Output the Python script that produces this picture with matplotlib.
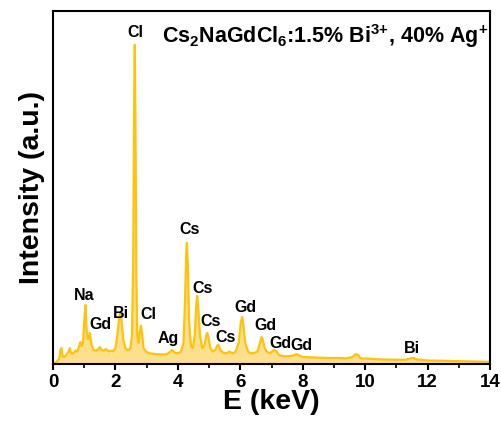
import matplotlib
matplotlib.use('Agg')
import matplotlib.pyplot as plt
from matplotlib.ticker import MultipleLocator

plt.rcParams['font.family'] = 'Liberation Sans'
plt.rcParams['font.weight'] = 'bold'
plt.rcParams['mathtext.fontset'] = 'custom'
plt.rcParams['mathtext.rm'] = 'Liberation Sans:bold'
plt.rcParams['mathtext.it'] = 'Liberation Sans:bold'
plt.rcParams['mathtext.bf'] = 'Liberation Sans:bold'

# Espectro EDS (keV, intensidad relativa)
energia = [0.00, 0.10, 0.20, 0.24, 0.27, 0.31, 0.40, 0.50, 0.54, 0.58, 0.65, 0.72,
           0.78, 0.85, 0.88, 0.92, 0.96, 1.00, 1.04, 1.08, 1.12, 1.18, 1.23, 1.30,
           1.38, 1.45, 1.50, 1.55, 1.62, 1.70, 1.78, 1.85, 1.92, 2.00, 2.06, 2.12,
           2.16, 2.20, 2.25, 2.32, 2.40, 2.48, 2.53, 2.57, 2.60, 2.62, 2.64, 2.67,
           2.70, 2.74, 2.78, 2.82, 2.86, 2.90, 2.98, 3.10, 3.30, 3.50, 3.65, 3.75,
           3.82, 3.90, 4.00, 4.10, 4.18, 4.23, 4.27, 4.29, 4.32, 4.36, 4.42, 4.48,
           4.54, 4.59, 4.62, 4.66, 4.71, 4.78, 4.86, 4.91, 4.94, 4.98, 5.04, 5.12,
           5.20, 5.26, 5.30, 5.36, 5.45, 5.55, 5.65, 5.75, 5.85, 5.95, 6.02, 6.06,
           6.10, 6.16, 6.25, 6.35, 6.45, 6.55, 6.63, 6.68, 6.72, 6.78, 6.85, 6.95,
           7.05, 7.10, 7.16, 7.25, 7.40, 7.55, 7.70, 7.80, 7.88, 8.00, 8.20, 8.50,
           8.80, 9.10, 9.40, 9.60, 9.70, 9.78, 9.85, 10.10, 10.50, 11.00, 11.30, 11.45,
           11.55, 11.65, 12.00, 12.50, 13.00, 13.50, 14.00]
intensidad = [0.000, 0.005, 0.015, 0.040, 0.045, 0.020, 0.022, 0.035, 0.045, 0.030, 0.030, 0.038,
              0.035, 0.055, 0.062, 0.050, 0.060, 0.120, 0.167, 0.090, 0.070, 0.088, 0.055, 0.040,
              0.038, 0.042, 0.048, 0.040, 0.038, 0.042, 0.036, 0.038, 0.036, 0.045, 0.080, 0.135,
              0.144, 0.120, 0.070, 0.045, 0.038, 0.045, 0.080, 0.300, 0.750, 0.904, 0.700, 0.250,
              0.080, 0.060, 0.090, 0.108, 0.080, 0.045, 0.035, 0.030, 0.028, 0.027, 0.028, 0.034,
              0.040, 0.032, 0.030, 0.035, 0.060, 0.180, 0.320, 0.343, 0.280, 0.120, 0.050, 0.045,
              0.080, 0.170, 0.193, 0.150, 0.080, 0.045, 0.055, 0.080, 0.088, 0.075, 0.045, 0.035,
              0.040, 0.052, 0.054, 0.040, 0.032, 0.030, 0.035, 0.030, 0.035, 0.060, 0.120, 0.133,
              0.110, 0.060, 0.035, 0.030, 0.032, 0.035, 0.060, 0.076, 0.070, 0.045, 0.035, 0.030,
              0.038, 0.040, 0.035, 0.025, 0.022, 0.022, 0.024, 0.028, 0.024, 0.020, 0.019, 0.018,
              0.017, 0.017, 0.016, 0.020, 0.028, 0.025, 0.016, 0.015, 0.013, 0.012, 0.012, 0.016,
              0.017, 0.013, 0.010, 0.009, 0.008, 0.007, 0.006]

# Etiquetas de los picos
etiquetas = ['Cl', 'Cs', 'Cs', 'Cs', 'Cs', 'Na', 'Gd', 'Bi', 'Cl', 'Ag',
             'Gd', 'Gd', 'Gd', 'Gd', 'Bi']
etiq_x = [2.63, 4.36, 4.78, 5.06, 5.54, 0.99, 1.51, 2.18, 3.04, 3.69,
          6.15, 6.79, 7.28, 7.95, 11.5]
etiq_y = [0.938, 0.382, 0.215, 0.119, 0.076, 0.193, 0.113, 0.142, 0.139, 0.071,
          0.161, 0.110, 0.059, 0.051, 0.045]

fig = plt.figure(figsize=(5.02, 4.23), dpi=100)
ax = fig.add_axes([0.1056, 0.1395, 0.8705, 0.8345])

ax.fill_between(energia, 0, intensidad, color='#FCE08E', lw=0)
ax.plot(energia, intensidad, color='#FFC20E', lw=1.6)

for t, x, y in zip(etiquetas, etiq_x, etiq_y):
    ax.text(x, y, t, ha='center', va='center', fontsize=11.5, fontweight='bold')

ax.text(0.623, 0.93, r'Cs$_2$NaGdCl$_6$:1.5% Bi$^{3{+}}$, 40% Ag$^{+}$',
        transform=ax.transAxes, ha='center', va='center', fontsize=15.5, fontweight='bold')

ax.set_xlim(0, 14)
ax.set_ylim(0, 1)
ax.xaxis.set_major_locator(MultipleLocator(2))
ax.xaxis.set_minor_locator(MultipleLocator(1))
ax.tick_params(axis='x', which='major', direction='out', length=4, width=1.5, labelsize=13.5, pad=3)
ax.tick_params(axis='x', which='minor', direction='out', length=3, width=1.2)
ax.set_yticks([])
for s in ax.spines.values():
    s.set_linewidth(1.5)

ax.set_xlabel('E (keV)', fontsize=20.5, fontweight='bold', labelpad=-1)
ax.set_ylabel('Intensity (a.u.)', fontsize=20.5, fontweight='bold', labelpad=6)

fig.savefig('out.png', dpi=100)
